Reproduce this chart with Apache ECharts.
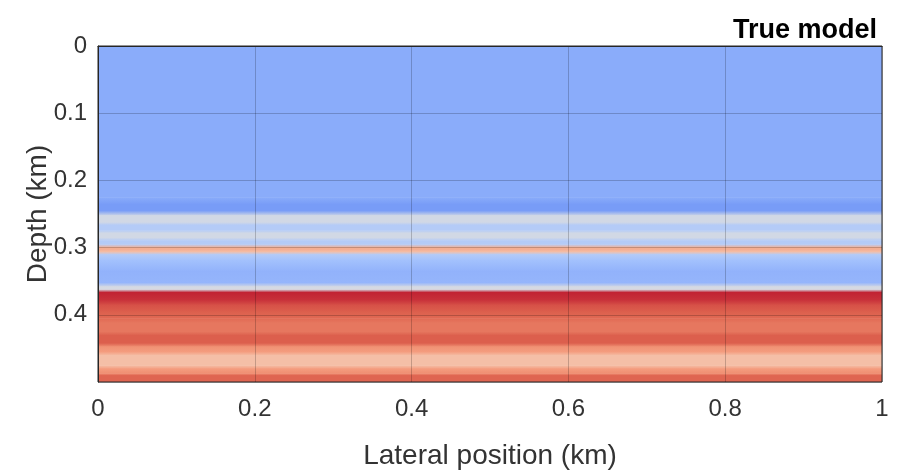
<!DOCTYPE html>
<html><head><meta charset="utf-8">
<script src="https://cdn.jsdelivr.net/npm/echarts@6/dist/echarts.min.js"></script>
<style>html,body{margin:0;padding:0;background:#fff}#c{width:905px;height:476px}</style>
</head><body><div id="c"></div>
<script>
// Depth samples (km) and normalised model value (0 = low, 1 = high)
const depthKm = [0.000,0.225,0.235,0.245,0.252,0.262,0.266,0.274,0.278,0.285,0.289,0.295,0.299,0.302,0.306,0.310,0.318,0.335,0.352,0.358,0.362,0.366,0.378,0.385,0.395,0.405,0.412,0.425,0.430,0.442,0.447,0.455,0.460,0.475,0.480,0.487,0.490,0.500];
const modelValue = [0.29,0.29,0.24,0.24,0.47,0.47,0.40,0.40,0.47,0.47,0.40,0.40,0.68,0.70,0.64,0.40,0.36,0.31,0.32,0.48,0.48,0.96,0.94,0.90,0.88,0.86,0.83,0.83,0.88,0.88,0.77,0.74,0.64,0.64,0.74,0.78,0.87,0.87];
const lateralRange = [0, 1];
const xTicks = [0, 0.2, 0.4, 0.6, 0.8, 1];
const yTicks = [0, 0.1, 0.2, 0.3, 0.4];

const cmapStops = [[0,[59,76,192]],[0.125,[90,120,228]],[0.25,[123,159,249]],[0.375,[170,199,253]],[0.5,[221,221,221]],[0.625,[244,196,173]],[0.75,[244,154,123]],[0.875,[222,99,79]],[1,[180,4,38]]];
function cmap(v){
  v = Math.max(0, Math.min(1, v));
  for (let i = 1; i < cmapStops.length; i++) {
    if (v <= cmapStops[i][0]) {
      const a = cmapStops[i-1], b = cmapStops[i];
      const t = (v - a[0]) / (b[0] - a[0]);
      const c = a[1].map((x, k) => Math.round(x + (b[1][k] - x) * t));
      return 'rgb(' + c.join(',') + ')';
    }
  }
  return 'rgb(180,4,38)';
}

const segs = [];
for (let i = 0; i < depthKm.length - 1; i++) {
  segs.push([depthKm[i], depthKm[i+1], modelValue[i], modelValue[i+1]]);
}

const font = 'Liberation Sans, Arial, sans-serif';
const chart = echarts.init(document.getElementById('c'), null, {renderer: 'canvas'});
chart.setOption({
  animation: false,
  title: {text: 'True model', right: 23, top: 12, textStyle: {fontFamily: font, fontSize: 27, fontWeight: 'bold', color: '#000'}},
  grid: {left: 98, right: 23, top: 46, bottom: 94, show: true, borderColor: '#262626', borderWidth: 1, z: 10},
  xAxis: {
    type: 'value', min: 0, max: 1, interval: 0.2,
    name: 'Lateral position (km)', nameLocation: 'middle', nameGap: 60,
    nameTextStyle: {fontFamily: font, fontSize: 28, color: '#333'},
    axisLine: {show: true, lineStyle: {color: '#262626'}},
    axisTick: {show: false},
    axisLabel: {fontFamily: font, fontSize: 24, color: '#333', margin: 15,
      formatter: v => xTicks.some(t => Math.abs(t - v) < 1e-9) ? String(+v.toFixed(1)) : ''},
    splitLine: {show: true, lineStyle: {color: 'rgba(0,0,0,0.2)', width: 1}},
    z: 10
  },
  yAxis: {
    type: 'value', min: 0, max: 0.5, interval: 0.1, inverse: true,
    name: 'Depth (km)', nameLocation: 'middle', nameGap: 46, nameMoveOverlap: false,
    nameTextStyle: {fontFamily: font, fontSize: 28, color: '#333'},
    axisLine: {show: true, lineStyle: {color: '#262626'}},
    axisTick: {show: false},
    axisLabel: {fontFamily: font, fontSize: 24, color: '#333', margin: 11, showMaxLabel: false,
      formatter: v => yTicks.some(t => Math.abs(t - v) < 1e-9) ? String(+v.toFixed(1)) : ''},
    splitLine: {show: true, lineStyle: {color: 'rgba(0,0,0,0.2)', width: 1}},
    z: 10
  },
  series: [{
    type: 'custom',
    data: segs,
    clip: true,
    z: 1,
    renderItem: function(params, api) {
      const d0 = api.value(0), d1 = api.value(1);
      const p0 = api.coord([lateralRange[0], d0]);
      const p1 = api.coord([lateralRange[1], d1]);
      const c0 = cmap(api.value(2)), c1 = cmap(api.value(3));
      return {
        type: 'rect',
        shape: {x: p0[0], y: p0[1], width: p1[0] - p0[0], height: p1[1] - p0[1] + 0.6},
        style: {fill: new echarts.graphic.LinearGradient(0, 0, 0, 1, [{offset: 0, color: c0}, {offset: 1, color: c1}])}
      };
    }
  }]
});
</script></body></html>
